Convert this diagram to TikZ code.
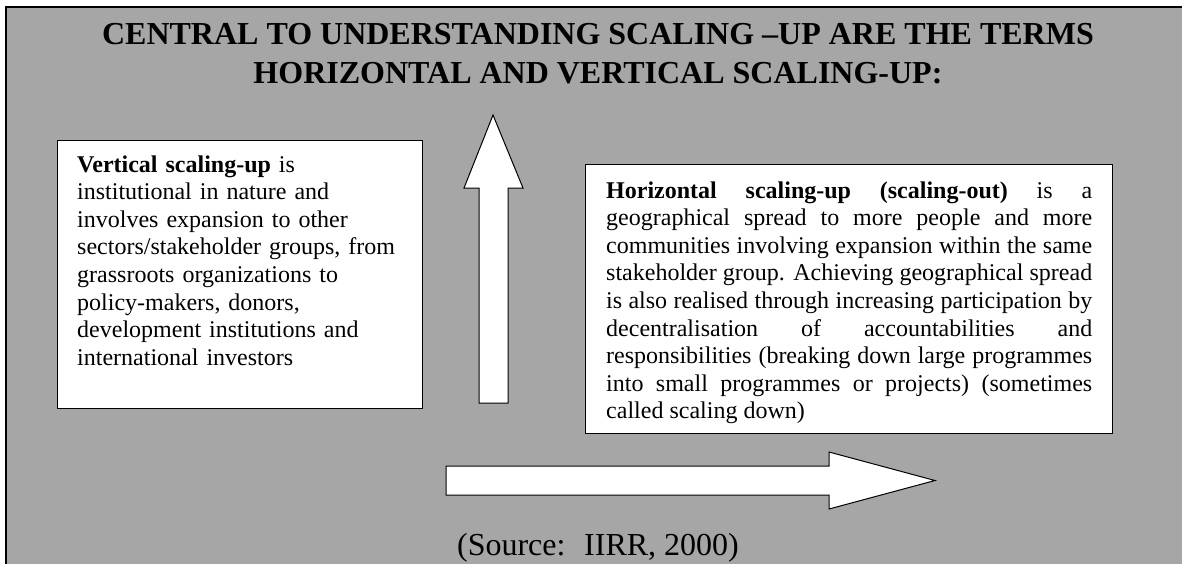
\documentclass[tikz,border=0pt]{standalone}
\usepackage{fontspec}
\setmainfont{Liberation Serif}
\usepackage{tikz}
\usepackage{xcolor}
\definecolor{bggray}{RGB}{166,166,166}
\hyphenpenalty=10000
\tolerance=10000

\begin{document}
\begin{tikzpicture}[x=1pt,y=-1pt,
    infobox/.style={draw,fill=white,line width=1.3pt,anchor=north west,inner sep=0pt},
    bodytext/.style={inner sep=0pt,anchor=base west,font=\fontsize{24}{27.6}\selectfont},
    headtext/.style={inner sep=0pt,anchor=base,font=\fontsize{32}{39}\selectfont\bfseries},
    blockarrow/.style={draw,fill=white,line width=1pt,line join=miter}]
      \useasboundingbox (0,0) rectangle (1182,563);
      % grey frame, cut off at the right and bottom
      \draw [line width=2pt,fill=bggray] (6,7) rectangle (1200,600);
      \node [headtext] (titleA) at (598,44) {CENTRAL TO UNDERSTANDING SCALING –UP ARE THE TERMS};
      \node [headtext] (titleB) at (598,83) {HORIZONTAL AND VERTICAL SCALING-UP:};
      \node [infobox,minimum width=365,minimum height=268] (vertbox) at (57,140) {};
      \node [bodytext,text width=330,align=left] (verttext) at (77,172)
      {\textbf{Vertical scaling-up} is\\ institutional in nature and\\ involves expansion to other\\
      sectors/stakeholder groups, from\\ grassroots organizations to\\ policy-makers, donors,\\
      development institutions and\\ international investors};
      \node [infobox,minimum width=527,minimum height=269] (horibox) at (585,164) {};
      \node [bodytext,text width=486,align=justify] (horitext) at (606,198)
      {\textbf{Horizontal scaling-up (scaling-out)} is a\linebreak geographical spread to more people and more\linebreak
      communities involving expansion within the same\linebreak stakeholder group. Achieving geographical spread\linebreak
      is also realised through increasing participation by\linebreak decentralisation of accountabilities and\linebreak
      responsibilities (breaking down large programmes\linebreak into small programmes or projects) (sometimes\linebreak
      called scaling down)};
      % up arrow and right arrow
      \draw [blockarrow] (479,403) -- (479,188) -- (464,188) -- (493,115) -- (523,188) -- (508,188) -- (508,403) -- cycle;
      \draw [blockarrow] (446,466) -- (829,466) -- (829,452) -- (935,480.5) -- (829,509) -- (829,495) -- (446,495) -- cycle;
      \node [headtext,font=\fontsize{32}{39}\selectfont\mdseries] (source) at (598,555) {(Source:~ IIRR, 2000)};
\end{tikzpicture}
\end{document}
